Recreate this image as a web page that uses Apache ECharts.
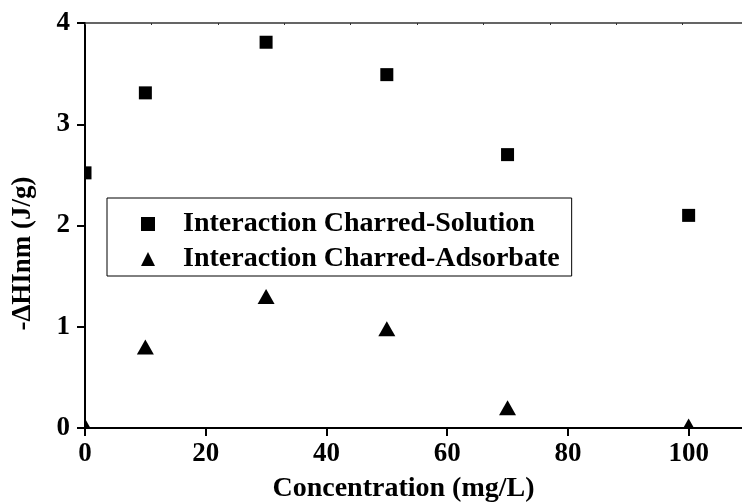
<!DOCTYPE html>
<html>
<head>
<meta charset="utf-8">
<script src="https://cdn.jsdelivr.net/npm/echarts@6/dist/echarts.min.js"></script>
<style>html,body{margin:0;padding:0;background:#fff}#c{width:742px;height:502px}</style>
</head>
<body>
<div id="c"></div>
<script>
const concentrations = [0, 10, 30, 50, 70, 100];
const solutionValues = [2.52, 3.31, 3.81, 3.49, 2.70, 2.10];
const adsorbateValues = [0.02, 0.80, 1.30, 0.98, 0.20, 0.02];
const seriesNames = ['Interaction Charred-Solution', 'Interaction Charred-Adsorbate'];
const xTitle = 'Concentration (mg/L)';
const yTitle = '-\u0394HInm (J/g)';

const FONT = "'Liberation Serif', 'Times New Roman', serif";
const chart = echarts.init(document.getElementById('c'), null, {renderer: 'canvas'});

function pairs(vals) { return concentrations.map((x, i) => [x, vals[i]]); }

function squareItem(params, api) {
  const p = api.coord([api.value(0), api.value(1)]);
  const s = 13;
  return {type: 'rect', shape: {x: p[0] - s / 2, y: p[1] - s / 2, width: s, height: s},
    style: {fill: '#000'}};
}
function triangleItem(params, api) {
  const p = api.coord([api.value(0), api.value(1)]);
  const w = 17, h = 15;
  return {type: 'polygon', shape: {points: [[p[0], p[1] - h / 2], [p[0] + w / 2, p[1] + h / 2], [p[0] - w / 2, p[1] + h / 2]]},
    style: {fill: '#000'}};
}

chart.setOption({
  animation: false,
  backgroundColor: '#fff',
  grid: {left: 85, width: 664, top: 23, height: 405, containLabel: false, outerBoundsMode: 'none'},
  legend: {
    orient: 'vertical', left: 107, top: 198,
    borderColor: '#000', borderWidth: 1, borderRadius: 0,
    padding: [12, 12, 3, 34], itemGap: 7,
    itemWidth: 14, itemHeight: 14,
    textStyle: {fontFamily: FONT, fontWeight: 'bold', fontSize: 28, color: '#000', padding: [0, 0, 0, 23]},
    data: [{name: seriesNames[0], icon: 'rect'}, {name: seriesNames[1], icon: 'triangle'}]
  },
  xAxis: [{
    type: 'value', min: 0, max: 110, interval: 20, position: 'bottom',
    name: xTitle, nameLocation: 'middle', nameGap: 47,
    nameTextStyle: {fontFamily: FONT, fontWeight: 'bold', fontSize: 28, color: '#000', padding: [0, 27, 0, 0]},
    axisLine: {lineStyle: {color: '#000', width: 2}},
    axisTick: {inside: false, length: 8, lineStyle: {color: '#000', width: 2}},
    axisLabel: {fontFamily: FONT, fontWeight: 'bold', fontSize: 27, color: '#000', margin: 13,
      formatter: v => (v % 20 === 0 && v <= 100) ? String(v) : ''},
    splitLine: {show: false}
  }, {
    type: 'value', min: 0, max: 110, interval: 11, position: 'top',
    axisLine: {lineStyle: {color: '#333', width: 1.5}},
    axisTick: {inside: true, length: 2, lineStyle: {color: '#333', width: 1}},
    axisLabel: {show: false}, splitLine: {show: false}
  }],
  yAxis: {
    type: 'value', min: 0, max: 4, interval: 1,
    name: yTitle, nameLocation: 'middle', nameGap: 48, nameRotate: 90,
    nameTextStyle: {fontFamily: FONT, fontWeight: 'bold', fontSize: 27, color: '#000', padding: [0, 56, 0, 0]},
    axisLine: {lineStyle: {color: '#000', width: 2}},
    axisTick: {inside: false, length: 8, lineStyle: {color: '#000', width: 2}},
    axisLabel: {fontFamily: FONT, fontWeight: 'bold', fontSize: 27, color: '#000', margin: 15},
    splitLine: {show: false}
  },
  series: [
    {name: seriesNames[0], type: 'custom', clip: true, itemStyle: {color: '#000'},
     renderItem: squareItem, data: pairs(solutionValues), encode: {x: 0, y: 1}},
    {name: seriesNames[1], type: 'custom', clip: true, itemStyle: {color: '#000'},
     renderItem: triangleItem, data: pairs(adsorbateValues), encode: {x: 0, y: 1}}
  ]
});
</script>
</body>
</html>
